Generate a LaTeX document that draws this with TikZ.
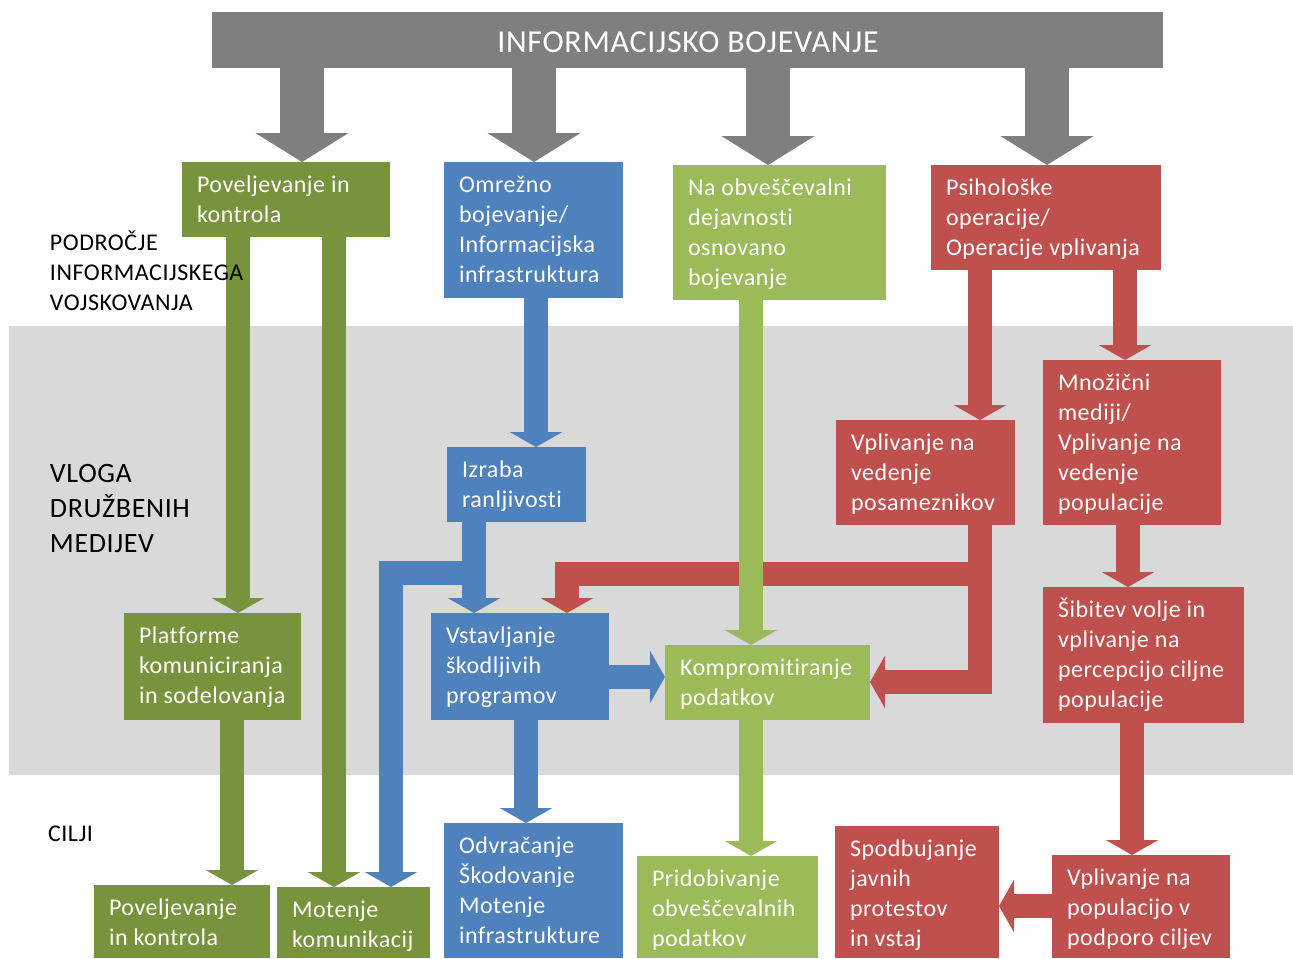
\documentclass[tikz,border=0pt]{standalone}
\usepackage{fontspec}
\setmainfont{Carlito}[LetterSpace=2.2, Ligatures={NoCommon, NoRare, NoContextual}]
\usetikzlibrary{arrows.meta}

\definecolor{dgreen}{HTML}{77933C}
\definecolor{lgreen}{HTML}{9BBB59}
\definecolor{iblue}{HTML}{4F81BD}
\definecolor{ired}{HTML}{C0504D}
\definecolor{banner}{HTML}{7F7F7F}
\definecolor{band}{HTML}{D9D9D9}

\pgfdeclarelayer{bg}
\pgfdeclarelayer{arr}
\pgfsetlayers{bg,arr,main}

\tikzset{
  blk/.style={rectangle, inner sep=0pt, outer sep=0pt, anchor=north west},
  lbl/.style={inner sep=0pt, outer sep=0pt, anchor=base west, text=white,
              font=\fontsize{18pt}{22.5pt}\selectfont},
  side/.style={inner sep=0pt, outer sep=0pt, anchor=base west, text=black,
               font=\fontsize{18pt}{22.5pt}\selectfont},
  fat/.style={line width=18pt, line join=miter,
              -{Triangle[width=39pt,length=11.25pt]}},
  gfat/.style={draw=banner, line width=33pt,
               -{Triangle[width=69pt,length=21.75pt]}},
}

% #1 name, #2 #3 top-left corner, #4 #5 bottom-right corner, #6 fill, #7 text lines
\newcommand\blok[7]{%
  \node[blk, fill=#6, minimum width={(#4-#2)*0.75pt},
        minimum height={(#5-#3)*0.75pt}] (#1) at (#2,#3) {};
  \node[lbl] (#1t) at ([shift={(15,30.5)}]#1.north west)
        {\begin{tabular}[t]{@{}l@{}}#7\end{tabular}};
}

\begin{document}
\begin{tikzpicture}[x=0.75pt, y=-0.75pt]
\useasboundingbox (0,0) rectangle (1293,958);

% middle band
\begin{pgfonlayer}{bg}
  \fill[band] (9,326) rectangle (1293,775);
\end{pgfonlayer}

% title banner
\node[blk, fill=banner, minimum width={(1163-212)*0.75pt},
      minimum height={(68-12)*0.75pt}] (ib) at (212,12) {};
\node[inner sep=0pt, anchor=base, text=white,
      font=\fontsize{24pt}{28pt}\selectfont] (ibt) at (688,52)
      {INFORMACIJSKO BOJEVANJE};

% boxes
\blok{b1}{182}{162}{390}{237}{dgreen}{Poveljevanje in\\kontrola}
\blok{b2}{444}{162}{623}{298}{iblue}{Omrežno\\bojevanje/\\Informacijska\\infrastruktura}
\blok{b3}{673}{165}{886}{300}{lgreen}{Na obveščevalni\\dejavnosti\\osnovano\\bojevanje}
\blok{b4}{931}{165}{1161}{270}{ired}{Psihološke\\operacije/\\Operacije vplivanja}
\blok{b5}{447}{447}{586}{522}{iblue}{Izraba\\ranljivosti}
\blok{b6}{836}{420}{1015}{525}{ired}{Vplivanje na\\vedenje\\posameznikov}
\blok{b7}{1043}{360}{1221}{525}{ired}{Množični\\mediji/\\Vplivanje na\\vedenje\\populacije}
\blok{b8}{124}{613}{301}{720}{dgreen}{Platforme\\komuniciranja\\in sodelovanja}
\blok{b9}{431}{613}{609}{720}{iblue}{Vstavljanje\\škodljivih\\programov}
\blok{b10}{665}{645}{870}{720}{lgreen}{Kompromitiranje\\podatkov}
\blok{b11}{1043}{587}{1244}{723}{ired}{Šibitev volje in\\vplivanje na\\percepcijo ciljne\\populacije}
\blok{b12}{94}{885}{270}{958}{dgreen}{Poveljevanje\\in kontrola}
\blok{b13}{277}{887}{430}{958}{dgreen}{Motenje\\komunikacij}
\blok{b14}{444}{823}{623}{958}{iblue}{Odvračanje\\Škodovanje\\Motenje\\infrastrukture}
\blok{b15}{637}{856}{818}{958}{lgreen}{Pridobivanje\\obveščevalnih\\podatkov}
\blok{b16}{835}{826}{999}{958}{ired}{Spodbujanje\\javnih\\protestov\\in vstaj}
\blok{b17}{1052}{855}{1230}{958}{ired}{Vplivanje na\\populacijo v\\podporo ciljev}

% side captions
\node[side] (cap1) at (50,250)
  {\begin{tabular}[t]{@{}l@{}}PODROČJE\\INFORMACIJSKEGA\\VOJSKOVANJA\end{tabular}};
\node[side, font=\fontsize{21pt}{26.6pt}\selectfont] (cap2) at (50,482)
  {\begin{tabular}[t]{@{}l@{}}VLOGA\\DRUŽBENIH\\MEDIJEV\end{tabular}};
\node[side] (cap3) at (48,841) {CILJI};

\begin{pgfonlayer}{arr}
  % banner arrows
  \draw[gfat] (302,0 |- ib.south) -- (302,0 |- b1.north);
  \draw[gfat] (534,0 |- ib.south) -- (534,0 |- b2.north);
  \draw[gfat] (768,0 |- ib.south) -- (768,0 |- b3.north);
  \draw[gfat] (1047,0 |- ib.south) -- (1047,0 |- b4.north);

  % command and control
  \draw[fat, dgreen] (238,0 |- b1.south) -- (238,0 |- b8.north);
  \draw[fat, dgreen] (334,0 |- b1.south) -- (334,0 |- b13.north);
  \draw[fat, dgreen] (232,0 |- b8.south) -- (232,0 |- b12.north);

  % network warfare
  \draw[fat, iblue] (536,0 |- b2.south) -- (536,0 |- b5.north);
  \draw[fat, iblue] (474,0 |- b5.south) -- (474,0 |- b9.north);
  \draw[fat, iblue] (474,0 |- b5.south) -- (474,573) -- (391,573) -- (391,0 |- b13.north);
  \draw[fat, iblue] (b9.east |- 0,677) -- (b10.west |- 0,677);
  \draw[fat, iblue] (526,0 |- b9.south) -- (526,0 |- b14.north);

  % psychological operations
  \draw[fat, ired] (980,0 |- b4.south) -- (980,0 |- b6.north);
  \draw[fat, ired] (1125,0 |- b4.south) -- (1125,0 |- b7.north);
  \draw[fat, ired] (980,0 |- b6.south) -- (980,682) -- (b10.east |- 0,682);
  \draw[fat, ired] (980,0 |- b6.south) -- (980,574) -- (567,574) -- (567,0 |- b9.north);
  \draw[fat, ired] (1128,0 |- b7.south) -- (1128,0 |- b11.north);
  \draw[fat, ired] (1132,0 |- b11.south) -- (1132,0 |- b17.north);
  \draw[fat, ired] (b17.west |- 0,906) -- (b16.east |- 0,906);

  % intelligence-based warfare
  \draw[fat, lgreen] (751,0 |- b3.south) -- (751,0 |- b10.north);
  \draw[fat, lgreen] (751,0 |- b10.south) -- (751,0 |- b15.north);
\end{pgfonlayer}
\end{tikzpicture}
\end{document}
